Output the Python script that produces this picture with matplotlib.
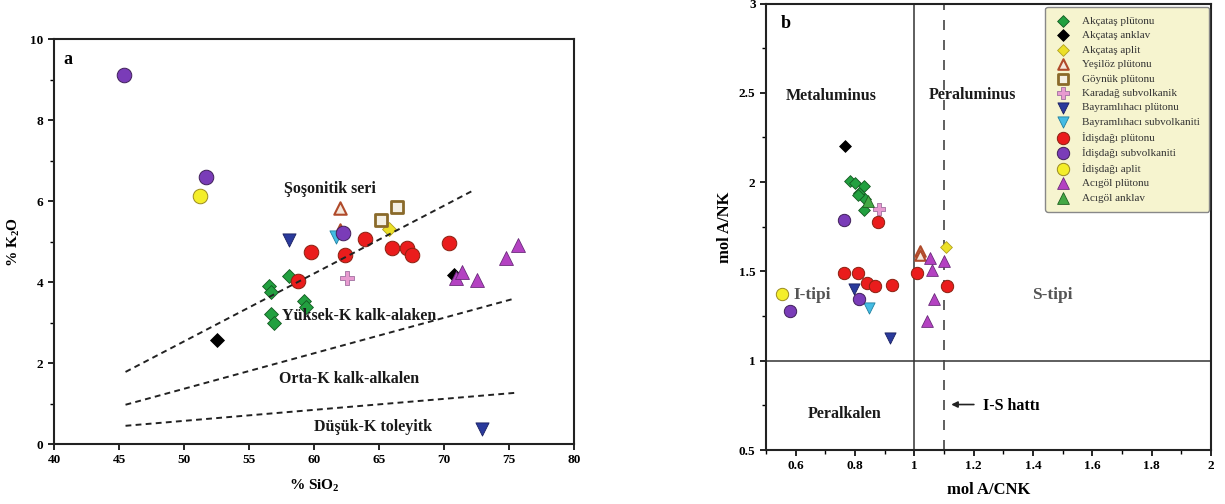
import matplotlib
matplotlib.use('Agg')
import matplotlib.pyplot as plt
from matplotlib.ticker import MultipleLocator, FormatStrFormatter

plt.rcParams['font.family'] = ['Liberation Serif', 'DejaVu Serif']
plt.rcParams['font.weight'] = 'bold'

# series names (legend order)
names = ["Akçataş plütonu", "Akçataş anklav", "Akçataş aplit", "Yeşilöz plütonu",
         "Göynük plütonu", "Karadağ subvolkanik", "Bayramlıhacı plütonu",
         "Bayramlıhacı subvolkaniti", "İdişdağı plütonu", "İdişdağı subvolkaniti",
         "İdişdağı aplit", "Acıgöl plütonu", "Acıgöl anklav"]

# panel a: SiO2 vs K2O
sio2 = {
    "Akçataş plütonu": [56.5, 56.7, 58.1, 59.2, 59.4, 56.7, 56.9],
    "Akçataş anklav": [52.55, 70.8],
    "Akçataş aplit": [65.8],
    "Yeşilöz plütonu": [62.0, 62.0],
    "Göynük plütonu": [65.15, 66.35],
    "Karadağ subvolkanik": [62.55],
    "Bayramlıhacı plütonu": [58.1, 72.9],
    "Bayramlıhacı subvolkaniti": [61.7],
    "İdişdağı plütonu": [59.8, 62.4, 63.9, 66.0, 67.13, 67.56, 70.4, 58.8],
    "İdişdağı subvolkaniti": [45.4, 51.7, 62.2],
    "İdişdağı aplit": [51.2],
    "Acıgöl plütonu": [70.9, 71.35, 72.55, 74.75, 75.7],
    "Acıgöl anklav": [],
}
k2o = {
    "Akçataş plütonu": [3.91, 3.75, 4.14, 3.54, 3.39, 3.2, 2.99],
    "Akçataş anklav": [2.57, 4.18],
    "Akçataş aplit": [5.32],
    "Yeşilöz plütonu": [5.82, 5.29],
    "Göynük plütonu": [5.52, 5.84],
    "Karadağ subvolkanik": [4.11],
    "Bayramlıhacı plütonu": [5.04, 0.37],
    "Bayramlıhacı subvolkaniti": [5.1],
    "İdişdağı plütonu": [4.75, 4.67, 5.06, 4.83, 4.83, 4.67, 4.96, 4.03],
    "İdişdağı subvolkaniti": [9.1, 6.6, 5.2],
    "İdişdağı aplit": [6.13],
    "Acıgöl plütonu": [4.10, 4.24, 4.06, 4.59, 4.92],
    "Acıgöl anklav": [],
}

# panel b: A/CNK vs A/NK
acnk = {
    "Akçataş plütonu": [0.784, 0.80, 0.815, 0.831, 0.834, 0.831, 0.809],
    "Akçataş anklav": [0.766],
    "Akçataş aplit": [1.106],
    "Yeşilöz plütonu": [1.02, 1.018],
    "Göynük plütonu": [],
    "Karadağ subvolkanik": [0.88],
    "Bayramlıhacı plütonu": [0.798, 0.919],
    "Bayramlıhacı subvolkaniti": [0.848],
    "İdişdağı plütonu": [0.876, 0.762, 0.809, 0.840, 0.867, 0.925, 1.009, 1.11],
    "İdişdağı subvolkaniti": [0.762, 0.812, 0.582],
    "İdişdağı aplit": [0.555],
    "Acıgöl plütonu": [1.054, 1.099, 1.06, 1.065, 1.043],
    "Acıgöl anklav": [0.843],
}
ank = {
    "Akçataş plütonu": [2.004, 1.998, 1.94, 1.976, 1.905, 1.845, 1.93],
    "Akçataş anklav": [2.205],
    "Akçataş aplit": [1.636],
    "Yeşilöz plütonu": [1.617, 1.59],
    "Göynük plütonu": [],
    "Karadağ subvolkanik": [1.85],
    "Bayramlıhacı plütonu": [1.40, 1.13],
    "Bayramlıhacı subvolkaniti": [1.295],
    "İdişdağı plütonu": [1.776, 1.494, 1.494, 1.438, 1.42, 1.425, 1.49, 1.416],
    "İdişdağı subvolkaniti": [1.79, 1.345, 1.28],
    "İdişdağı aplit": [1.373],
    "Acıgöl plütonu": [1.575, 1.556, 1.506, 1.345, 1.22],
    "Acıgöl anklav": [1.896],
}

# series boundaries in panel a (dashed)
bound_x = [[45.5, 72.3], [45.5, 75.4], [45.5, 75.7]]
bound_y = [[1.78, 6.27], [0.97, 3.59], [0.45, 1.27]]

# marker styles: marker, face, edge, size, edge width
styles = {
    "Akçataş plütonu": ('D', '#22a040', '#145a22', 50, 0.6),
    "Akçataş anklav": ('D', '#000000', '#000000', 50, 0.6),
    "Akçataş aplit": ('D', '#ece028', '#b0a020', 50, 0.6),
    "Yeşilöz plütonu": ('^', '#f4e8dc', '#b04a2a', 80, 1.5),
    "Göynük plütonu": ('s', '#f4f0e4', '#8a6a2a', 70, 2.0),
    "Karadağ subvolkanik": ('P', '#e89ad0', '#a070a0', 110, 0.6),
    "Bayramlıhacı plütonu": ('v', '#2a3a9c', '#1a2060', 90, 0.6),
    "Bayramlıhacı subvolkaniti": ('v', '#44bce4', '#2080a0', 90, 0.6),
    "İdişdağı plütonu": ('o', '#ea1c1c', '#8a2010', 110, 0.7),
    "İdişdağı subvolkaniti": ('o', '#7a3cb8', '#40205a', 110, 0.7),
    "İdişdağı aplit": ('o', '#f4ee2a', '#9a8a20', 110, 0.7),
    "Acıgöl plütonu": ('^', '#b442c2', '#6a2a7a', 100, 0.6),
    "Acıgöl anklav": ('^', '#44a844', '#206020', 100, 0.6),
}

fig = plt.figure(figsize=(12.25, 5.04), dpi=100)
ax1 = fig.add_axes([0.0441, 0.119, 0.4245, 0.8036])
ax2 = fig.add_axes([0.6253, 0.107, 0.3633, 0.886])

# ---- panel a ----
for bx, by in zip(bound_x, bound_y):
    ax1.plot(bx, by, color='#222222', lw=1.4, ls=(0, (3, 2.2)), zorder=4)

for n in names:
    m, fc, ec, s, lw = styles[n]
    if sio2[n]:
        ax1.scatter(sio2[n], k2o[n], marker=m, s=s, c=fc, edgecolors=ec,
                    linewidths=lw, zorder=3)

ax1.set_xlim(40, 80)
ax1.set_ylim(0, 10)
ax1.xaxis.set_major_locator(MultipleLocator(5))
ax1.yaxis.set_major_locator(MultipleLocator(2))
ax1.yaxis.set_minor_locator(MultipleLocator(1))
ax1.set_xlabel('% SiO$_\\mathregular{2}$', fontsize=11, fontweight='bold', labelpad=8)
ax1.set_ylabel('% K$_\\mathregular{2}$O', fontsize=11, fontweight='bold', labelpad=6)

txt = dict(fontsize=11.5, fontweight='bold', ha='center', va='center', color='#1a1a1a')
ax1.text(40.7, 9.5, 'a', fontsize=13, fontweight='bold', ha='left', va='center')
ax1.text(61.2, 6.29, 'Şoşonitik seri', **txt)
ax1.text(63.5, 3.16, 'Yüksek-K kalk-alaken', zorder=5, **txt)
ax1.text(62.7, 1.6, 'Orta-K kalk-alkalen', **txt)
ax1.text(64.5, 0.41, 'Düşük-K toleyitk', **txt)

# ---- panel b ----
ax2.axvline(1.0, color='#333333', lw=1.1, zorder=1)
ax2.axhline(1.0, color='#333333', lw=1.1, zorder=1)
ax2.axvline(1.1, color='#444444', lw=1.2, ls=(0, (6, 6)), zorder=1)

handles = []
for n in names:
    m, fc, ec, s, lw = styles[n]
    h = ax2.scatter(acnk[n], ank[n], marker=m, s=s * 0.72, c=fc, edgecolors=ec,
                    linewidths=lw, zorder=3, label=n)
    handles.append(h)

ax2.set_xlim(0.5, 2.0)
ax2.set_ylim(0.5, 3.0)
ax2.xaxis.set_major_locator(MultipleLocator(0.2))
ax2.xaxis.set_minor_locator(MultipleLocator(0.1))
ax2.yaxis.set_major_locator(MultipleLocator(0.5))
ax2.yaxis.set_minor_locator(MultipleLocator(0.25))
ax2.xaxis.set_major_formatter(FormatStrFormatter('%g'))
ax2.yaxis.set_major_formatter(FormatStrFormatter('%g'))
ax2.set_xlabel('mol A/CNK', fontsize=12, fontweight='bold', labelpad=7)
ax2.set_ylabel('mol A/NK', fontsize=12, fontweight='bold', labelpad=4)

ax2.text(0.55, 2.89, 'b', fontsize=13, fontweight='bold', ha='left', va='center')
ax2.text(0.72, 2.48, 'Metaluminus', **txt)
ax2.text(1.197, 2.49, 'Peraluminus', **txt)
ax2.text(0.766, 0.70, 'Peralkalen', **txt)
ax2.text(0.655, 1.37, 'I-tipi', fontsize=12.5, fontweight='bold', ha='center', va='center', color='#555555')
ax2.text(1.466, 1.37, 'S-tipi', fontsize=12.5, fontweight='bold', ha='center', va='center', color='#555555')
ax2.annotate('', xy=(1.115, 0.755), xytext=(1.21, 0.755),
             arrowprops=dict(arrowstyle='-|>', color='#222222', lw=1.2, mutation_scale=9))
ax2.text(1.232, 0.745, 'I-S hattı', fontsize=11.5, fontweight='bold', ha='left', va='center')

leg = ax2.legend(handles=handles, loc='upper right', bbox_to_anchor=(0.995, 0.992),
                 prop={'weight': 'normal', 'size': 8}, labelspacing=0.42,
                 handletextpad=0.9, borderpad=0.8, fancybox=True, framealpha=1,
                 facecolor='#f6f4cf', edgecolor='#888888', borderaxespad=0,
                 scatterpoints=1, markerscale=1.0, handlelength=1.6)
for t in leg.get_texts():
    t.set_color('#333333')

for ax in (ax1, ax2):
    for sp in ax.spines.values():
        sp.set_linewidth(1.5)
        sp.set_color('#222222')
    ax.tick_params(which='major', direction='out', length=4, width=1.2, labelsize=9.5)
    ax.tick_params(which='minor', direction='out', length=3, width=1.0)
    for lab in ax.get_xticklabels() + ax.get_yticklabels():
        lab.set_fontweight('bold')

fig.savefig('out.png', dpi=100, facecolor='white')
